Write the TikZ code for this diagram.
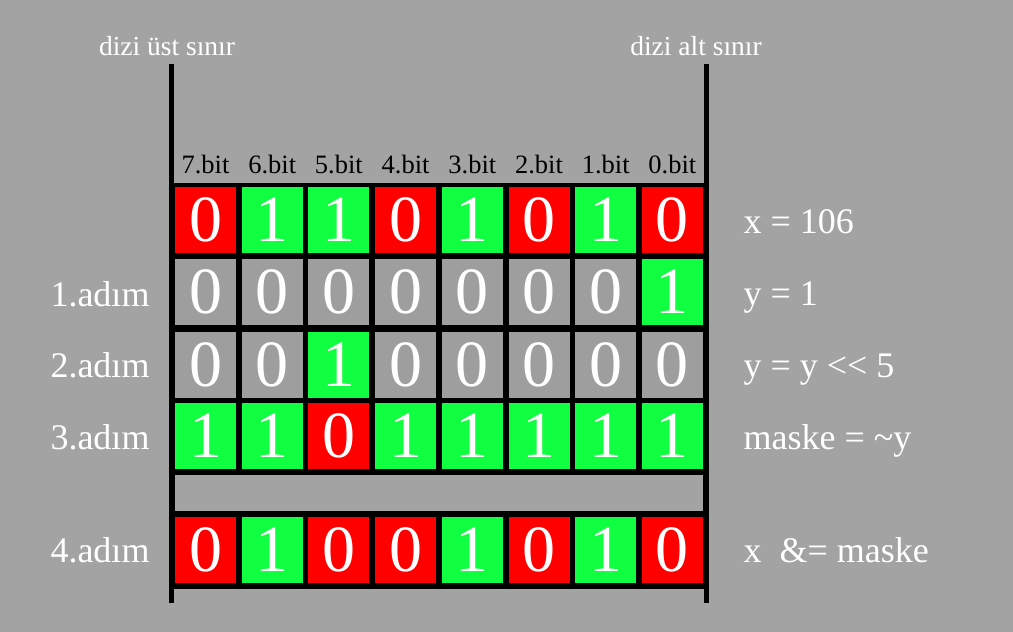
\documentclass[tikz,border=0pt]{standalone}
\usepackage{fontspec}
\setmainfont{Liberation Serif}
\usepackage{xcolor}
\definecolor{arka}{RGB}{163,163,163}
\definecolor{hgri}{RGB}{158,158,158}
\definecolor{kirmizi}{RGB}{255,0,0}
\definecolor{yesil}{RGB}{16,255,64}

\begin{document}
\begin{tikzpicture}[x=1pt, y=-1pt,
    hucre/.style={rectangle, inner sep=0pt, minimum width=61pt, minimum height=66pt, text=white, font=\fontsize{66}{66}\selectfont},
    bit0/.style={fill=kirmizi}, bit1/.style={fill=yesil},
    gbit0/.style={fill=hgri}, gbit1/.style={fill=yesil},
    etiket/.style={anchor=base, text=white, font=\fontsize{36}{36}\selectfont},
    bitad/.style={anchor=base, text=black, font=\fontsize{26.5}{26.5}\selectfont},
    sinir/.style={anchor=base, text=white, font=\fontsize{27.5}{27.5}\selectfont}]
        % Background
        \fill[arka] (0,0) rectangle (1013,632);
        \useasboundingbox (0,0) rectangle (1013,632);

        % Array bounds
        \coordinate (SolUst) at (171.5,64);
        \coordinate (SolAlt) at (171.5,603);
        \coordinate (SagUst) at (706,64);
        \coordinate (SagAlt) at (706,603);
        \draw[line width=5pt] (SolUst) -- (SolAlt);
        \draw[line width=5pt] (SagUst) -- (SagAlt);
        \fill[black] (169,183) rectangle (709,589);
        \fill[arka] (175,475) rectangle (703,511);

        % Bit names
        \foreach \n [count=\i from 0] in {7,...,0}
        \node[bitad] (B-\i) at (205.5+66.7*\i,173) {\n.bit};

        % Rows of bits
        \foreach \b [count=\i from 0] in {0,1,1,0,1,0,1,0}
        \node[hucre, bit\b] (X-\i) at (205.5+66.7*\i,220) {\b};
        \foreach \b [count=\i from 0] in {0,0,0,0,0,0,0,1}
        \node[hucre, gbit\b] (A1-\i) at (205.5+66.7*\i,292) {\b};
        \foreach \b [count=\i from 0] in {0,0,1,0,0,0,0,0}
        \node[hucre, gbit\b] (A2-\i) at (205.5+66.7*\i,364.5) {\b};
        \foreach \b [count=\i from 0] in {1,1,0,1,1,1,1,1}
        \node[hucre, bit\b] (A3-\i) at (205.5+66.7*\i,436) {\b};
        \foreach \b [count=\i from 0] in {0,1,0,0,1,0,1,0}
        \node[hucre, bit\b] (A4-\i) at (205.5+66.7*\i,549.5) {\b};

        % Labels
        \node[sinir] (UstSinir) at (167,55) {dizi üst sınır};
        \node[sinir] (AltSinir) at (696,55) {dizi alt sınır};
        \node[etiket] (Adim1) at (100,306) {1.adım};
        \node[etiket] (Adim2) at (100,377) {2.adım};
        \node[etiket] (Adim3) at (100,449) {3.adım};
        \node[etiket] (Adim4) at (100,562) {4.adım};
        \node[etiket, anchor=base west] (IfX) at (740,233) {x = 106};
        \node[etiket, anchor=base west] (IfY) at (740,305) {y = 1};
        \node[etiket, anchor=base west] (IfKay) at (740,377) {y = y <\kern0pt< 5};
        \node[etiket, anchor=base west] (IfMaske) at (740,449) {maske = \textasciitilde y};
        \node[etiket, anchor=base west] (IfVe) at (740,562) {x\ \ \&= maske};
    \end{tikzpicture}
\end{document}
